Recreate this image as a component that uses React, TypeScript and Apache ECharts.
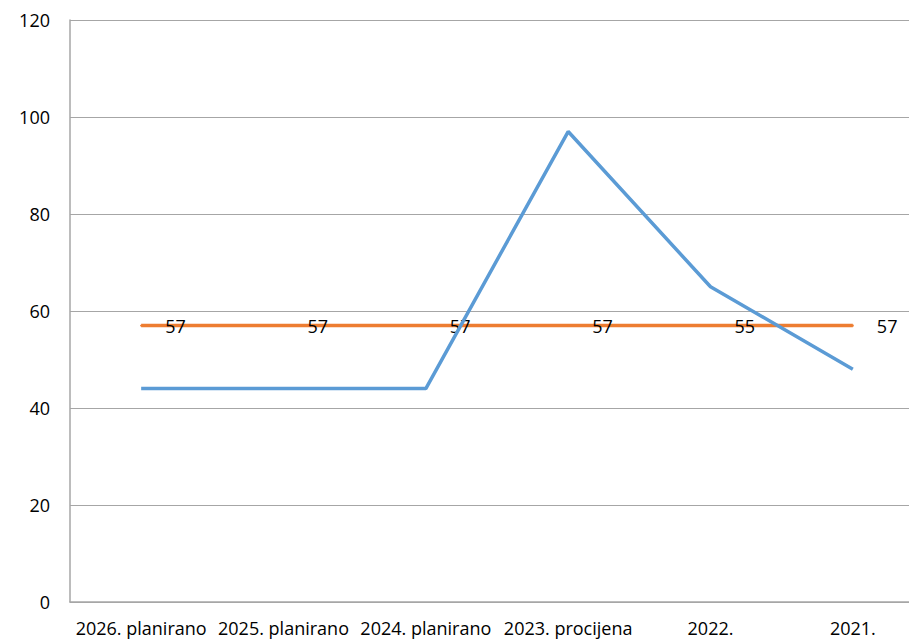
import React, { useEffect, useRef } from "react";
import * as echarts from "echarts";

const categories = [
  "2026. planirano",
  "2025. planirano",
  "2024. planirano",
  "2023. procijena",
  "2022.",
  "2021.",
];
const blueValues = [44, 44, 44, 97, 65, 48];
const orangeValues = [57, 57, 57, 57, 57, 57];
const orangeLabels = ["57", "57", "57", "57", "55", "57"];
const yMin = 0;
const yMax = 120;
const yInterval = 20;

export default function App() {
  const ref = useRef<HTMLDivElement>(null);
  useEffect(() => {
    if (!ref.current) return;
    const chart = echarts.init(ref.current, null, { renderer: "svg" });
    const font = "'Open Sans', 'Noto Sans', sans-serif";
    chart.setOption({
      animation: false,
      backgroundColor: "#ffffff",
      textStyle: { fontFamily: font },
      grid: {
        left: 70,
        top: 20,
        width: 854,
        height: 582,
        containLabel: false,
        outerBoundsMode: "none",
      },
      xAxis: {
        type: "category",
        data: categories,
        boundaryGap: true,
        axisLine: { show: true, lineStyle: { color: "#a6a6a6", width: 1.5 } },
        axisTick: { show: false },
        axisLabel: {
          color: "#000",
          fontSize: 18,
          fontFamily: font,
          margin: 17,
          interval: 0,
          hideOverlap: false,
        },
        splitLine: { show: false },
      },
      yAxis: {
        type: "value",
        min: yMin,
        max: yMax,
        interval: yInterval,
        axisLine: { show: true, lineStyle: { color: "#a6a6a6", width: 1.5 } },
        axisTick: { show: false },
        axisLabel: { color: "#000", fontSize: 18, fontFamily: font, margin: 20 },
        splitLine: { show: true, lineStyle: { color: "#a6a6a6", width: 1 } },
      },
      series: [
        {
          type: "line",
          data: orangeValues,
          showSymbol: true,
          symbol: "circle",
          symbolSize: 2,
          lineStyle: { color: "#ed7d31", width: 3.5 },
          itemStyle: { color: "#ed7d31" },
          z: 2,
          label: {
            show: true,
            position: "right",
            distance: 23,
            color: "#000",
            fontSize: 18,
            fontFamily: font,
            formatter: (p: any) => orangeLabels[p.dataIndex],
          },
        },
        {
          type: "line",
          data: blueValues,
          showSymbol: false,
          symbol: "none",
          lineStyle: { color: "#5b9bd5", width: 3.5 },
          itemStyle: { color: "#5b9bd5" },
          z: 3,
        },
      ],
    });
    return () => chart.dispose();
  }, []);
  return (
    <div
      ref={ref}
      style={{ position: "fixed", left: 0, top: 0, width: 909, height: 640 }}
    />
  );
}
